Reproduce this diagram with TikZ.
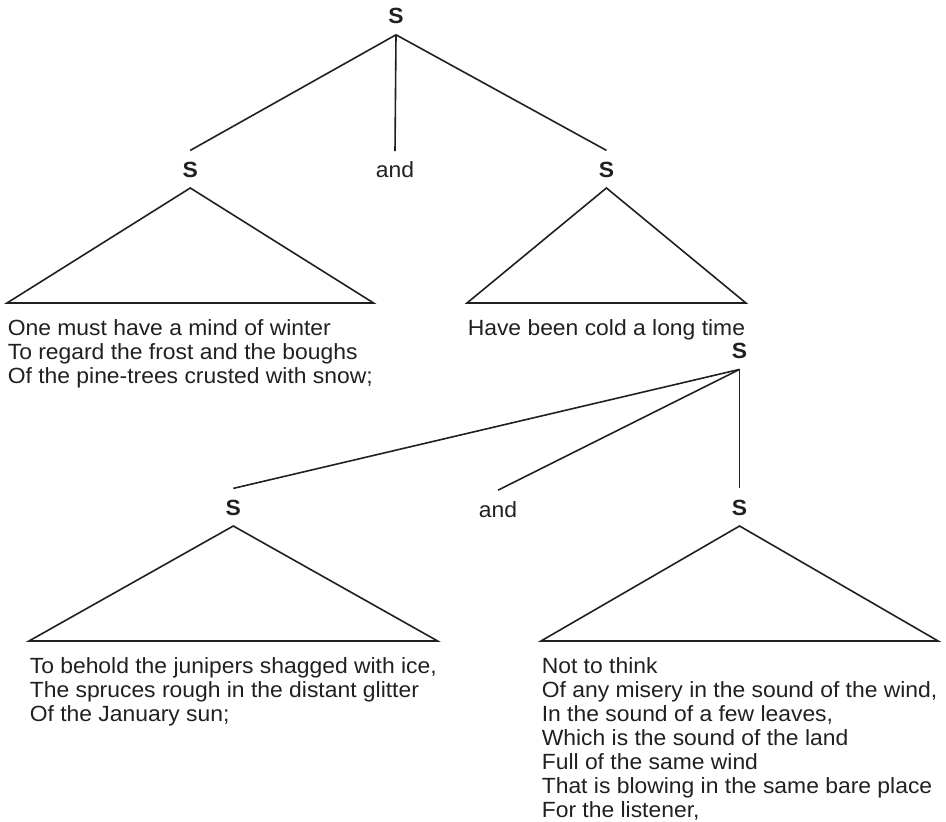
\documentclass[tikz,border=0pt]{standalone}
\usepackage{fontspec}
\setmainfont[FakeStretch=1.04]{Liberation Sans}
\usepackage{tikz}
\usetikzlibrary{positioning}
\definecolor{ink}{RGB}{35,31,32}

\tikzset{
  lbl/.style={text height=8pt, text depth=0pt, inner sep=5pt, font=\fontsize{11}{12}\selectfont},
  cat/.style={lbl, font=\fontsize{11}{12}\selectfont\bfseries},
  verse/.style={anchor=north west, inner sep=0pt, align=left, font=\fontsize{11}{12}\selectfont}
}
\newcommand{\firstline}{\rule{0pt}{16pt}}

\begin{document}
\begin{tikzpicture}[x=0.5pt, y=-0.5pt, line width=0.8pt, color=ink]
\useasboundingbox (0,0) rectangle (946,822);
%%%%% First tree %%%%%
\node[verse] (ta) at (7,303) {\firstline One must have a mind of winter\\To regard the frost and the boughs\\Of the pine-trees crusted with snow;};
\node[verse] (tb) at (467,303) {\firstline Have been cold a long time};
\node[cat, above=57.5pt of ta] (sa) {S};
\node[cat, above=57.5pt of tb] (sb) {S};
\node[lbl, anchor=base] (anda) at (395,178) {and};
\node[cat, anchor=base] (topa) at (396,24) {S};
\draw (topa.south) -- (sa.north);
\draw (topa.south) -- (anda.north);
\draw (topa.south) -- (sb.north);
\draw (sa.south) -- (ta.north west) -- (ta.north east) -- cycle;
\draw (sb.south) -- (tb.north west) -- (tb.north east) -- cycle;
%%%%% Second tree %%%%%
\node[verse] (tc) at (29,641) {\firstline To behold the junipers shagged with ice,\\The spruces rough in the distant glitter\\Of the January sun;};
\node[verse] (td) at (541,641) {\firstline Not to think\\Of any misery in the sound of the wind,\\In the sound of a few leaves,\\Which is the sound of the land\\Full of the same wind\\That is blowing in the same bare place\\For the listener,};
\node[cat, above=57.5pt of tc] (sc) {S};
\node[cat, above=57.5pt of td] (sd) {S};
\node[lbl, anchor=base] (andb) at (498,517) {and};
\node[cat, above=59.5pt of sd] (topb) {S};
\draw (topb.south) -- (sc.north);
\draw (topb.south) -- (andb.north);
\draw (topb.south) -- (sd.north);
\draw (sc.south) -- (tc.north west) -- (tc.north east) -- cycle;
\draw (sd.south) -- (td.north west) -- (td.north east) -- cycle;
\end{tikzpicture}
\end{document}
